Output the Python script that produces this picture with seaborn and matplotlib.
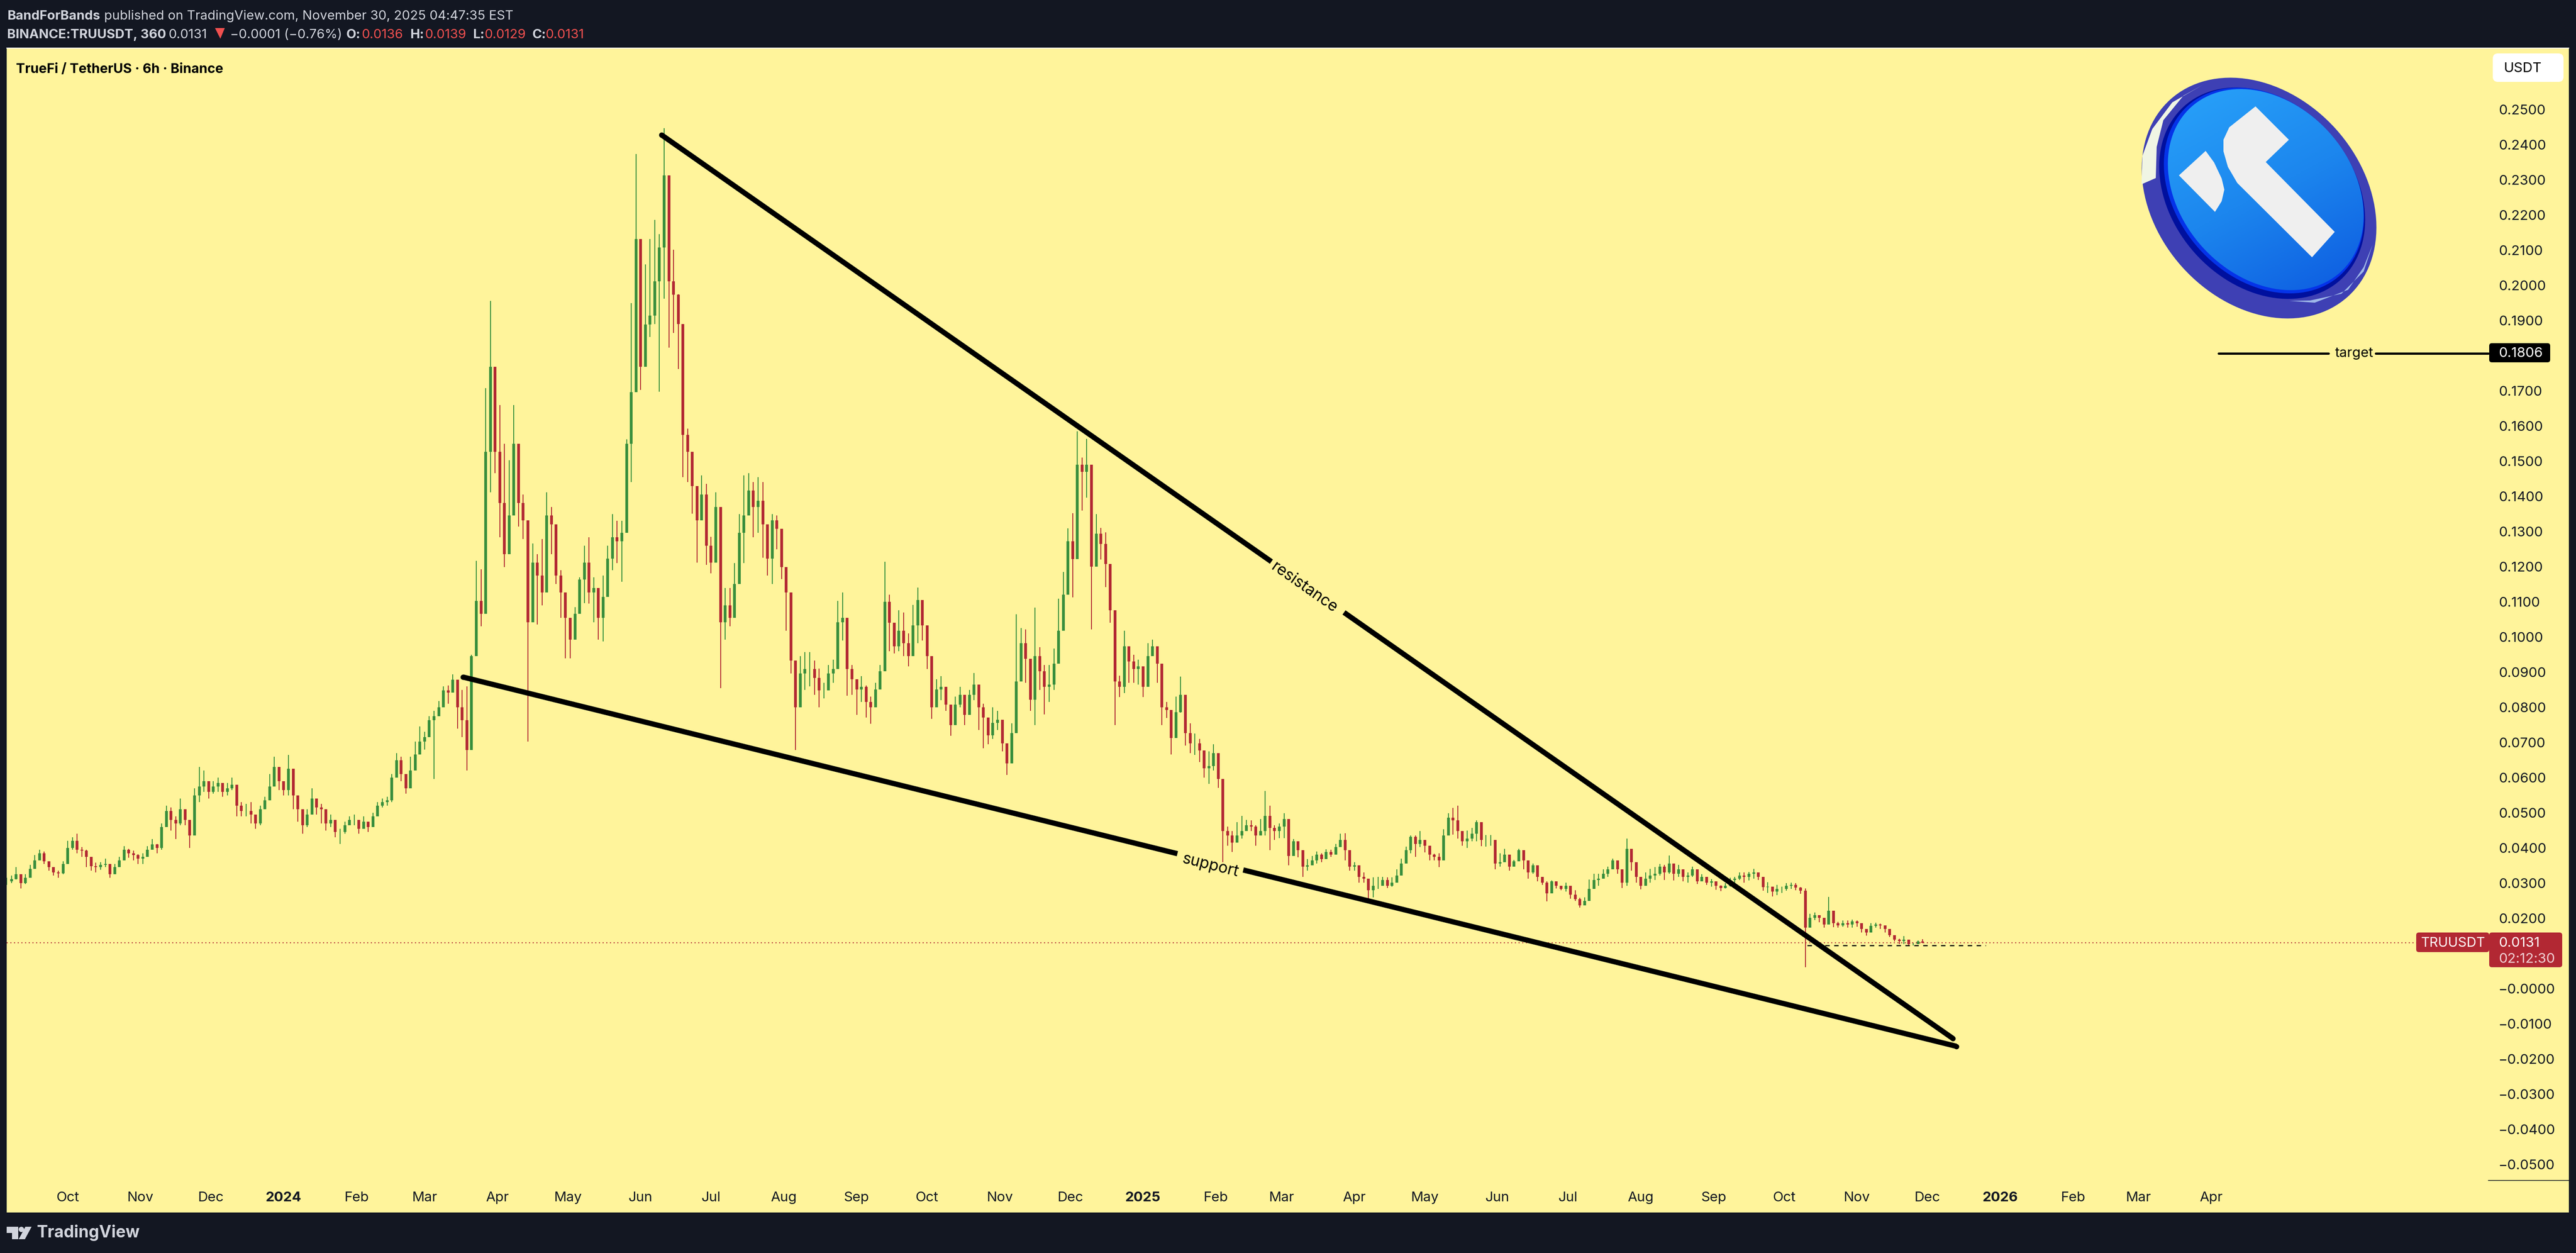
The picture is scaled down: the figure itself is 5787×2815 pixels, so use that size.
import numpy as np
import pandas as pd
import matplotlib
matplotlib.use("Agg")
import matplotlib.pyplot as plt
from matplotlib.colors import LinearSegmentedColormap
from matplotlib.patches import Ellipse, FancyBboxPatch, Polygon, Circle
import seaborn as sns

# prices below are in ten-thousandths of a USDT, one bar per two days
closes_a = [305,312,325,300,315,340,365,385,362,345,330,328,355,400,420,395,392,375,348,345,
            352,355,325,345,365,395,385,380,370,375,395,410,400,460,505,480,470,510,480,435,
            550,575,590,560,575,585,560,570,580,520,505,505,495,470,510,535,575,630,590,565,
            625,550,510,465,495,540,515,510,470,480,445,445,465,480,480,455,475,460,490,520,
            530,535,600,650,610,570]
highs_a = [315,322,345,318,325,352,380,395,390,360,345,335,362,420,430,440,402,395,365,358,
           360,370,345,355,375,405,398,392,382,385,405,425,412,470,520,515,490,540,510,480,
           570,630,620,590,590,600,585,585,600,560,530,525,530,495,520,545,610,660,630,585,
           665,625,530,495,510,570,535,525,505,495,470,455,475,490,495,480,490,475,500,530,
           540,545,610,670,660,610]
lows_a = [295,300,310,285,298,325,345,375,355,335,322,315,325,380,395,385,375,345,335,330,
          338,345,315,325,345,375,372,365,355,355,375,395,385,395,480,450,425,465,465,400,
          440,530,560,540,555,560,545,550,565,490,490,490,470,455,465,515,535,590,565,550,
          550,510,475,440,460,505,495,470,450,460,430,412,440,465,465,440,460,445,470,505,
          515,520,530,600,590,555]

closes_b = [620,666,703,715,763,775,800,848,842,878,800,763,678,945,1102,1066,1526,1768,1526,1381,
            1236,1345,1550,1381,1332,1042,1211,1175,1127,1345,1320,1175,1127,1054,993,1066,1163,1211,1127,1139,
            1054,1114,1223,1284,1272,1296,1550,1696,2132,1768,1889,1914,2011,2108,2313,2011,1974,1890,1575,1526,
            1429,1332,1405,1260,1211,1369,1042,1090,1054,1151,1296,1345,1417,1369,1387,1320,1223,1332,1308,1199,
            1127,933,800,896,909,909,884,848,848,896,909,1042,1054]
highs_b = [660,702,745,730,775,790,818,860,862,894,860,850,860,950,1217,1193,1708,1956,1696,1659,
           1550,1502,1659,1490,1405,1314,1266,1235,1278,1411,1369,1230,1190,1100,1050,1085,1170,1260,1284,1170,
           1100,1175,1260,1350,1330,1330,1562,1950,2374,1950,2059,2132,2186,2145,2447,2241,2101,1975,1732,1593,
           1496,1405,1460,1435,1285,1411,1250,1139,1139,1210,1350,1460,1466,1441,1454,1441,1296,1350,1345,1270,
           1190,1005,933,945,957,957,933,910,870,920,935,1102,1127]
lows_b = [600,640,680,680,750,596,780,820,810,860,739,715,620,760,1024,1030,1066,1411,1466,1284,
          1199,1260,1500,1314,1278,703,1102,1036,1090,1272,1236,1151,1054,939,939,1020,1070,1096,1095,1042,
          993,987,1115,1190,1210,1157,1454,1441,1708,1702,1781,1853,1890,1698,1962,1823,1865,1762,1454,1441,
          1351,1211,1350,1205,1181,1295,854,993,1030,1055,1151,1210,1345,1284,1296,1225,1175,1151,1250,1165,
          1018,896,678,812,850,860,835,800,825,860,870,955,990]

closes_c = [909,880,851,858,815,800,851,902,1100,1040,974,1018,982,945,1033,1105,1033,945,800,851,
            858,807,749,807,836,778,836,865,800,771,720,756,764,698,640,727,873,982,938,822,
            945,902,858,865,924,1018,1120,1272,1222,1490,1469,1490,1200,1294,1265,1207,1076,873,858,974,
            931,909,916,858,945,974,924,800,793,713,786,836,727,698,698,677,626,633,669,596]
highs_c = [953,920,880,889,862,830,870,920,1214,1120,1025,1076,1069,1010,1091,1140,1094,1000,891,880,
           889,840,790,830,858,820,850,898,850,810,750,800,790,740,680,755,1065,1025,1022,880,
           1083,971,920,920,967,1109,1185,1309,1352,1585,1510,1563,1450,1349,1310,1298,1165,996,890,1018,
           960,950,935,880,982,993,955,850,815,760,830,887,815,755,725,710,670,675,695,659]
lows_c = [833,836,778,815,771,753,810,860,960,960,953,960,945,916,980,982,990,909,767,800,
          820,790,719,760,800,750,810,820,735,684,695,710,735,675,608,680,815,915,870,790,
          749,850,780,815,850,940,1075,1207,1113,1338,1360,1396,1022,1243,1220,1142,1040,749,829,840,
          869,870,865,829,890,945,870,749,770,666,740,785,691,670,665,644,600,582,620,571]

closes_d = [448,436,415,436,448,465,461,436,448,491,457,448,461,482,377,419,394,347,351,364,
            381,368,389,381,402,423,394,347,351,318,313,280,292,292,309,292,301,322,356,394,
            432,411,423,406,381,375,364,436,486,478,448,419,427,440,474,423,423,423,356,360,
            381,347,362,394,364,330,351,318,301,271,305,292,284,292,267,254,237,250,284,309,
            313,326,339,364,339,301,398,360,318,292,313,322,326,347,330,356,326,339,318,322,
            339,305,318,301,305,292,286,292,309,313,322,318,326,330,318,288,290,276]
highs_d = [533,461,448,474,491,480,478,465,482,562,520,465,470,499,457,425,410,370,368,377,
           390,385,396,395,412,440,442,358,360,345,330,309,316,318,318,316,316,339,370,404,
           436,436,448,417,398,383,385,453,499,514,520,440,450,457,478,437,437,437,406,385,
           398,375,366,398,390,339,356,326,310,305,307,305,292,301,280,280,258,260,310,326,
           326,339,347,370,360,325,427,385,340,315,330,340,345,354,352,378,345,352,330,330,
           347,330,325,312,312,301,294,300,315,318,330,330,332,340,326,308,302,286]
lows_d = [360,406,389,423,427,448,448,406,436,436,394,423,428,428,351,381,373,318,335,352,
          356,360,373,375,381,402,364,335,335,301,301,256,259,284,292,286,290,308,332,365,
          385,375,402,387,365,365,345,381,453,438,427,406,400,419,419,405,404,406,339,347,
          365,335,352,365,339,313,326,305,295,248,276,285,280,276,256,250,231,237,255,288,
          292,313,318,339,326,286,293,335,301,282,296,301,309,322,309,326,308,318,305,301,
          318,297,305,295,290,281,277,285,290,301,309,301,307,313,309,278,272,262]

closes_e = [283,283,292,295,287,279,174,201,209,201,182,221,186,180,186,182,191,186,170,159,
            178,182,180,170,152,139,135,139,127,127,134,131]
highs_e = [295,290,300,301,300,289,285,213,217,208,201,261,198,190,194,194,196,194,186,165,
           186,187,185,180,162,149,142,149,135,131,137,141]
lows_e = [266,272,279,283,280,269,61,178,195,188,174,190,175,174,176,174,174,176,160,151,
          161,174,170,160,147,134,127,127,123,123,127,129]

first_bar = "2023-09-05 02:00"
price_scale = 1e-4

month_dates = ["2023-10-01", "2023-11-01", "2023-12-01", "2024-01-01", "2024-02-01", "2024-03-01",
               "2024-04-01", "2024-05-01", "2024-06-01", "2024-07-01", "2024-08-01", "2024-09-01",
               "2024-10-01", "2024-11-01", "2024-12-01", "2025-01-01", "2025-02-01", "2025-03-01",
               "2025-04-01", "2025-05-01", "2025-06-01", "2025-07-01", "2025-08-01", "2025-09-01",
               "2025-10-01", "2025-11-01", "2025-12-01", "2026-01-01", "2026-02-01", "2026-03-01",
               "2026-04-01"]
month_labels = ["Oct", "Nov", "Dec", "2024", "Feb", "Mar", "Apr", "May", "Jun", "Jul", "Aug", "Sep",
                "Oct", "Nov", "Dec", "2025", "Feb", "Mar", "Apr", "May", "Jun", "Jul", "Aug", "Sep",
                "Oct", "Nov", "Dec", "2026", "Feb", "Mar", "Apr"]
price_ticks = [0.25, 0.24, 0.23, 0.22, 0.21, 0.20, 0.19, 0.17, 0.16, 0.15, 0.14, 0.13, 0.12, 0.11, 0.10,
               0.09, 0.08, 0.07, 0.06, 0.05, 0.04, 0.03, 0.02, 0.0, -0.01, -0.02, -0.03, -0.04, -0.05]

resistance_dates = ["2024-06-09 22:00", "2025-12-12 00:00"]
resistance_prices = [0.2428, -0.0142]
resistance_gap = [0.4723, 0.5285]
support_dates = ["2024-03-17 10:00", "2025-12-13 10:00"]
support_prices = [0.0886, -0.0164]
support_gap = [0.4784, 0.5225]
target_price = 0.1806
target_dates = ["2026-04-04", "2026-05-21", "2026-06-10", "2026-07-28"]
last_price = 0.0131
low_marker_price = 0.0123
low_marker_dates = ["2025-10-11", "2025-12-26"]

YELLOW = "#FFF49B"
DARK = "#131722"
GREEN = "#388E3C"
RED = "#B22833"
LIGHT = "#D1D4DC"
HOT = "#F0504F"
TXT = 22.3

sns.set_theme(style="white")
plt.rcParams["font.family"] = ["Inter", "DejaVu Sans"]

W, H = 5787, 2815
fig = plt.figure(figsize=(W / 100, H / 100), dpi=100, facecolor=DARK)
ax = fig.add_axes([15 / W, 1 - 2724 / H, (5771 - 15) / W, (2724 - 108) / H], facecolor=YELLOW)

closes = np.array(closes_a + closes_b + closes_c + closes_d + closes_e) * price_scale
highs = np.array(highs_a + highs_b + highs_c + highs_d + highs_e) * price_scale
lows = np.array(lows_a + lows_b + lows_c + lows_d + lows_e) * price_scale
opens = np.r_[closes[0], closes[:-1]]
dates = pd.date_range(first_bar, periods=len(closes), freq="2D")
side = np.where(closes >= opens, "up", "down")
colors = {"up": GREEN, "down": RED}

bars = pd.DataFrame({"date": dates, "bar": np.arange(len(dates)), "side": side,
                     "open": opens, "close": closes, "high": highs, "low": lows})
wicks = bars.melt(id_vars=["date", "bar", "side"], value_vars=["high", "low"], value_name="price")
bodies = bars.melt(id_vars=["date", "bar", "side"], value_vars=["open", "close"], value_name="price")

sns.lineplot(data=wicks, x="date", y="price", units="bar", hue="side", palette=colors, estimator=None,
             lw=1.5, legend=False, ax=ax, solid_capstyle="butt")
sns.lineplot(data=bodies, x="date", y="price", units="bar", hue="side", palette=colors, estimator=None,
             lw=4.5, legend=False, ax=ax, solid_capstyle="butt")


def trend(date_pair, price_pair, gap):
    # split a trend line around its label
    d0, d1 = pd.to_datetime(date_pair)
    p0, p1 = price_pair
    for a, b in [(0, gap[0]), (gap[1], 1)]:
        seg = pd.DataFrame({"date": [d0 + (d1 - d0) * a, d0 + (d1 - d0) * b],
                            "price": [p0 + (p1 - p0) * a, p0 + (p1 - p0) * b]})
        sns.lineplot(data=seg, x="date", y="price", color="black", lw=8.5, ax=ax,
                     solid_capstyle="butt", zorder=4)
    ends = pd.DataFrame({"date": [d0, d1], "price": [p0, p1]})
    sns.scatterplot(data=ends, x="date", y="price", color="black", s=72, linewidth=0, ax=ax, zorder=4)


trend(resistance_dates, resistance_prices, resistance_gap)
trend(support_dates, support_prices, support_gap)

target = pd.to_datetime(target_dates)
for i in (0, 2):
    ax.plot(target[i:i + 2], [target_price, target_price], color="black", lw=3.6, solid_capstyle="round")
ax.plot([pd.Timestamp("2023-09-05"), target[3]], [last_price, last_price], color=RED, lw=1.7, ls=(0, (1, 2.5)))
ax.plot(pd.to_datetime(low_marker_dates), [low_marker_price] * 2, color="black", lw=1.8, ls=(0, (4, 4)))

ax.set_xlim(pd.Timestamp("2023-09-05 02:00"), pd.Timestamp("2026-08-31 07:00"))
ax.set_ylim((2221 - 2724) / 7900, (2221 - 108) / 7900)
ax.set_xlabel("")
ax.set_ylabel("")
for s in ax.spines.values():
    s.set_visible(False)
ax.grid(False)

ax.set_xticks(pd.to_datetime(month_dates))
ax.set_xticklabels(month_labels)
for lab, txt in zip(ax.get_xticklabels(), month_labels):
    lab.set_fontweight("bold" if txt.isdigit() else "normal")
ax.tick_params(axis="x", length=0, pad=-34, labelsize=TXT, colors="#131722")

ax.yaxis.tick_right()
ax.set_yticks(price_ticks)
ax.set_yticklabels([("\u2212" if p <= 0 else "") + f"{abs(p):.4f}" for p in price_ticks])
ax.tick_params(axis="y", length=0, pad=-113.8, labelsize=TXT, colors="#131722", labelright=True, labelleft=False)

# pixel overlay for the labels, header, footer and coin
ov = fig.add_axes([0, 0, 1, 1], facecolor="none", zorder=5)
ov.set_xlim(0, W)
ov.set_ylim(H, 0)
ov.axis("off")


def put(x, y, s, color="black", weight="normal", size=TXT, **kw):
    ov.text(x, y + 3, s, color=color, fontweight=weight, fontsize=size, va="center", ha=kw.pop("ha", "left"), **kw)


def box(x0, y0, x1, y1, color, r=6):
    ov.add_patch(FancyBboxPatch((x0 + r, y0 + r), x1 - x0 - 2 * r, y1 - y0 - 2 * r,
                                boxstyle=f"round,pad={r},rounding_size={r}", fc=color, ec="none"))


ov.plot([15, 5771], [108, 108], color="#F0F3FA", lw=1.5)
ov.plot([5590, 5771], [2652, 2652], color="#131722", lw=1.2)

put(16, 33, "BandForBands", LIGHT, "bold", size=21)
put(234, 33, "published on TradingView.com, November 30, 2025 04:47:35 EST", LIGHT, size=21)
put(16, 75, "BINANCE:TRUUSDT, 360", LIGHT, "bold", size=21)
put(378, 75, "0.0131", LIGHT, size=21)
ov.add_patch(Polygon([(483, 63), (505, 63), (495, 87)], fc=HOT, ec="none"))
put(517, 75, "\u22120.0001 (\u22120.76%)", LIGHT, size=21)
for x, lab in [(778, "O:"), (921, "H:"), (1062, "L:"), (1196, "C:")]:
    put(x, 75, lab, LIGHT, "bold", size=21)
for x, val in [(812, "0.0136"), (954, "0.0139"), (1088, "0.0129"), (1225, "0.0131")]:
    put(x, 75, val, HOT, size=21)
put(36, 153, "TrueFi / TetherUS \u00b7 6h \u00b7 Binance", "black", "bold", size=21.6)

box(5600, 120, 5759, 184, "white", 12)
put(5624, 151, "USDT")
box(5592, 771, 5729, 814, "black")
put(5613, 791, "0.1806", "white")
put(5289, 791, "target", ha="center")
box(5428, 2095, 5592, 2139, RED)
box(5592, 2095, 5756, 2173, RED)
put(5438, 2116, "TRUUSDT", "white", size=21.8)
put(5613, 2116, "0.0131", "white")
put(5613, 2152, "02:12:30", "#F0D0D4")
put(2930, 1317, "resistance", ha="center", rotation=-35, rotation_mode="anchor", size=25.5)
put(2719, 1942, "support", ha="center", rotation=-14, rotation_mode="anchor", size=25.5)

# footer logo
ov.add_patch(Polygon([(15, 2756), (41, 2756), (41, 2784), (27, 2784), (27, 2770), (15, 2770)], fc=LIGHT, ec="none"))
ov.add_patch(Circle((48, 2762), 6, fc=LIGHT, ec="none"))
ov.add_patch(Polygon([(71, 2756), (56, 2784), (42, 2784), (57, 2756)], fc=LIGHT, ec="none"))
put(83, 2767, "TradingView", LIGHT, "bold", size=26.6)

# coin
ov.add_patch(Ellipse((5075, 445), 596, 464, angle=48, fc="#3E40B4", ec="none"))
ov.add_patch(Ellipse((5082, 434), 525, 405, angle=48, fc="#00109E", ec="none"))
ov.add_patch(Ellipse((5086, 428), 512, 392, angle=48, fc="#0533E8", ec="none"))
face = Ellipse((5090, 426), 500, 384, angle=48, transform=ov.transData, fc="none", ec="none")
ov.add_patch(face)
grad_x, grad_y = np.meshgrid(np.linspace(0, 1, 200), np.linspace(0, 1, 200))
coin_cmap = LinearSegmentedColormap.from_list("coin", ["#2AA6FB", "#1C86EE", "#0B55DE"])
im = ov.imshow(0.35 * grad_x + 0.65 * grad_y, extent=(4840, 5340, 680, 180), cmap=coin_cmap, aspect="auto", zorder=2)
im.set_clip_path(face)
ov.set_xlim(0, W)
ov.set_ylim(H, 0)
ov.add_patch(Polygon([(4811, 414), (4813, 350), (4835, 290), (4880, 230), (4950, 190), (4905, 215),
                      (4860, 270), (4845, 330), (4843, 400)], fc="#F0F5E4", ec="none", zorder=3))
ov.add_patch(Polygon([(5143, 676), (5200, 680), (5275, 651), (5310, 600), (5330, 550), (5310, 610),
                      (5260, 660), (5190, 675)], fc="#9FB8E8", ec="none", zorder=3))
ov.add_patch(Polygon([(5067, 239), (5142, 314), (5090, 364), (5245, 521), (5194, 578), (5026, 411),
                      (5005, 375), (4995, 340), (4995, 314), (5008, 286)], fc="#EFEFEF", ec="none", zorder=3))
ov.add_patch(Polygon([(4955, 339), (4895, 394), (4976, 476), (4991, 452), (4997, 426), (4991, 401), (4974, 365)],
                     fc="#EFEFEF", ec="none", zorder=3))

fig.savefig("out.png", dpi=100, facecolor=DARK)
